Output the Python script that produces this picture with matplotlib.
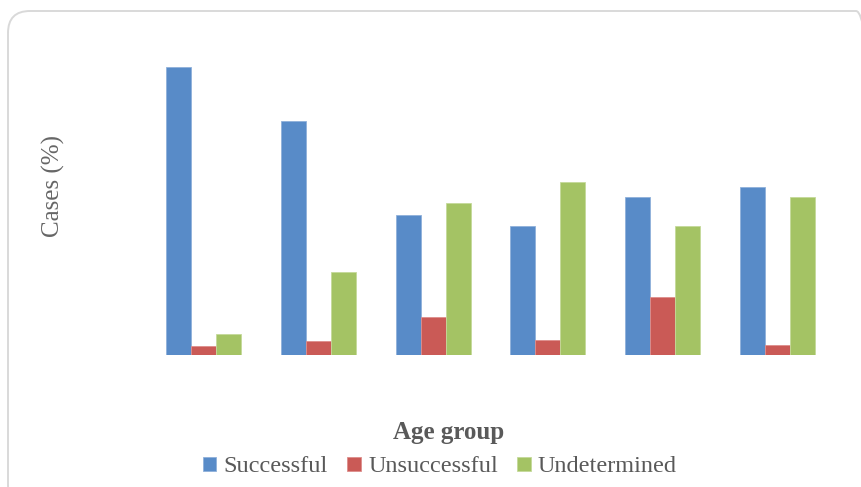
import matplotlib
matplotlib.use("Agg")
import matplotlib.pyplot as plt
import numpy as np
from matplotlib.patches import FancyBboxPatch
from matplotlib.transforms import IdentityTransform

# Outcome share (%) per age group
age_groups = ["G1", "G2", "G3", "G4", "G5", "G6"]
successful = [87.3, 70.9, 42.4, 39.1, 47.9, 50.9]
unsuccessful = [2.7, 4.2, 11.5, 4.5, 17.6, 3.0]
undetermined = [6.4, 25.2, 46.1, 52.4, 39.1, 47.9]
series_names = ["Successful", "Unsuccessful", "Undetermined"]

colors = ["#588BC8", "#CA5A56", "#A4C364"]
edge_colors = ["#8FB0DA", "#DE8E8B", "#C5DA9A"]
text_color = "#595959"
serif = ["Liberation Serif", "DejaVu Serif"]

W, H = 861, 487
fig = plt.figure(figsize=(W / 100, H / 100), dpi=100)
fig.patch.set_facecolor("white")

# Rounded chart-area frame
frame = FancyBboxPatch((8, -20), 870, 476 + 20,
                       boxstyle="round,pad=0,rounding_size=22",
                       transform=IdentityTransform(), facecolor="none",
                       edgecolor="#D9D9D9", linewidth=1.4, zorder=0)
fig.patches.append(frame)

ax = fig.add_axes([146 / W, 1 - 355 / H, (835 - 146) / W, 330 / H])
x = np.arange(len(age_groups))
w = 0.218
for i, (vals, name) in enumerate(zip([successful, unsuccessful, undetermined], series_names)):
    ax.bar(x + (i - 1) * w, vals, width=w, color=colors[i],
           edgecolor=edge_colors[i], linewidth=0.6, label=name)

ax.set_xlim(-0.5, len(age_groups) - 0.5)
ax.set_ylim(0, 100)
ax.set_xticks([])
ax.set_yticks([])
for s in ax.spines.values():
    s.set_visible(False)
ax.patch.set_alpha(0)

fig.text(53 / W, 1 - 186 / H, "Cases (%)", rotation=90, ha="center", va="center",
         fontsize=18, color="#666666", family=serif)
fig.text(449 / W, 1 - 433 / H, "Age group", ha="center", va="center",
         fontsize=18, fontweight="bold", color=text_color, family=serif)

handles, labels = ax.get_legend_handles_labels()
leg = fig.legend(handles, labels, loc="center", bbox_to_anchor=(440 / W, 1 - 467 / H),
                 ncol=3, frameon=False, handlelength=0.55, handleheight=0.55,
                 handletextpad=0.3, columnspacing=0.8, borderaxespad=0,
                 prop={"family": serif, "size": 17.5})
for t in leg.get_texts():
    t.set_color(text_color)

fig.savefig("out.png", dpi=100)
